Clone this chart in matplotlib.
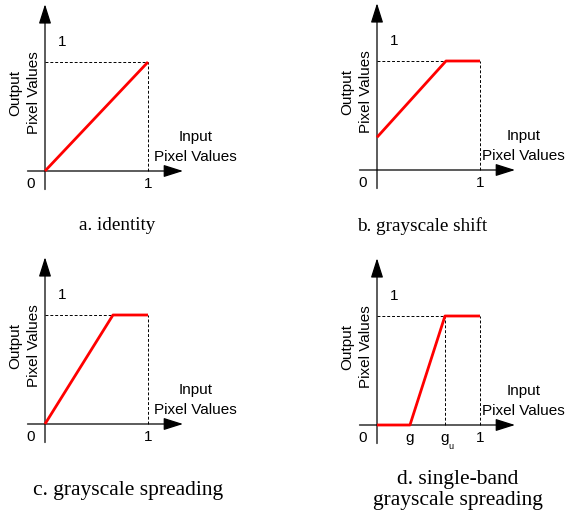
import matplotlib
matplotlib.use("Agg")
import matplotlib.pyplot as plt

# ---- data ----
a_x = [0, 1]
a_y = [0, 1]
b_x = [0, 0.67, 1]
b_y = [0.30, 1, 1]
c_x = [0, 0.66, 1]
c_y = [0, 1, 1]
d_x = [0, 0.32, 0.66, 1]
d_y = [0, 0, 1, 1]

a_ticks = [0, 1]
a_ticklabels = ["0", "1"]
d_ticks = [0, 0.32, 0.66, 1]
d_ticklabels = ["0", "g", "g", "1"]

captions = ["a. identity", "b. grayscale shift", "c. grayscale spreading",
            "d. single-band\ngrayscale spreading"]

W, H = 567, 514
fig = plt.figure(figsize=(W / 100, H / 100), dpi=100)

SANS = "Liberation Sans"
SERIF = "Liberation Serif"
UX, UY = 103, 109


def make_ax(ox, oy):
    ax = fig.add_axes([ox / W, (H - oy) / H, UX / W, UY / H])
    ax.set_xlim(0, 1)
    ax.set_ylim(0, 1)
    ax.axis("off")
    return ax


def draw_panel(ax, xs, ys, ticks, ticklabels, dash_to=None, extra_vlines=(),
               input_x=1.46):
    # axes lines with arrows
    ax.annotate("", xy=(1.34, 0), xytext=(-0.17, 0), xycoords="data",
                arrowprops=dict(arrowstyle="-|>,head_length=1.2,head_width=0.38",
                                mutation_scale=10, lw=0.9, color="black",
                                shrinkA=0, shrinkB=0), annotation_clip=False)
    ax.annotate("", xy=(0, 1.53), xytext=(0, -0.17), xycoords="data",
                arrowprops=dict(arrowstyle="-|>,head_length=1.2,head_width=0.38",
                                mutation_scale=10, lw=0.9, color="black",
                                shrinkA=0, shrinkB=0), annotation_clip=False)
    # dashed guides
    hx = 1 if dash_to is None else dash_to
    ax.plot([0, hx], [1, 1], ls=(0, (3, 2)), lw=0.7, color="black", clip_on=False)
    ax.plot([1, 1], [0, 1], ls=(0, (3, 2)), lw=0.7, color="black", clip_on=False)
    for vx in extra_vlines:
        ax.plot([vx, vx], [0, 1], ls=(0, (3, 2)), lw=0.7, color="black", clip_on=False)
    # red mapping
    ax.plot(xs, ys, color="#ff0000", lw=2.0, clip_on=False, solid_capstyle="butt",
            zorder=5)
    # tick labels
    for t, lab in zip(ticks, ticklabels):
        xx = -0.14 if t == 0 else t
        ax.text(xx, -0.115, lab, ha="center", va="center", fontsize=11,
                family=SANS, clip_on=False)
    ax.text(0.17, 1.18, "1", ha="center", va="center", fontsize=11, family=SANS)
    ax.text(input_x, 0.31, "Input", ha="center", va="center", fontsize=11,
            family=SANS)
    ax.text(input_x, 0.125, "Pixel Values", ha="center", va="center", fontsize=11,
            family=SANS)
    ax.text(-0.285, 0.72, "Output", ha="center", va="center", rotation=90,
            fontsize=11, family=SANS)
    ax.text(-0.11, 0.715, "Pixel Values", ha="center", va="center", rotation=90,
            fontsize=11, family=SANS)


ax_a = make_ax(45, 171)
draw_panel(ax_a, a_x, a_y, a_ticks, a_ticklabels)

ax_b = make_ax(377, 170)
draw_panel(ax_b, b_x, b_y, a_ticks, a_ticklabels, dash_to=b_x[1], input_x=1.42)

ax_c = make_ax(45, 424)
draw_panel(ax_c, c_x, c_y, a_ticks, a_ticklabels, dash_to=c_x[1])

ax_d = make_ax(377, 425)
draw_panel(ax_d, d_x, d_y, d_ticks, d_ticklabels, dash_to=d_x[2],
           extra_vlines=[d_x[2]], input_x=1.42)
# subscript on g_u
ax_d.text(d_ticks[2] + 0.06, -0.2, "u", ha="center", va="center", fontsize=6.5,
          family=SANS, clip_on=False)

# captions (figure pixel coords)
cap_pos = [(117, 226), (422, 226), (128, 490), (458, 490)]
cap_size = [13.8, 13.8, 15.5, 15.5]
for (cx, cy), txt, fs in zip(cap_pos, captions, cap_size):
    fig.text(cx / W, (H - cy) / H, txt, ha="center", va="center", fontsize=fs,
             family=SERIF, linespacing=1.08)

fig.savefig("out.png", dpi=100)
